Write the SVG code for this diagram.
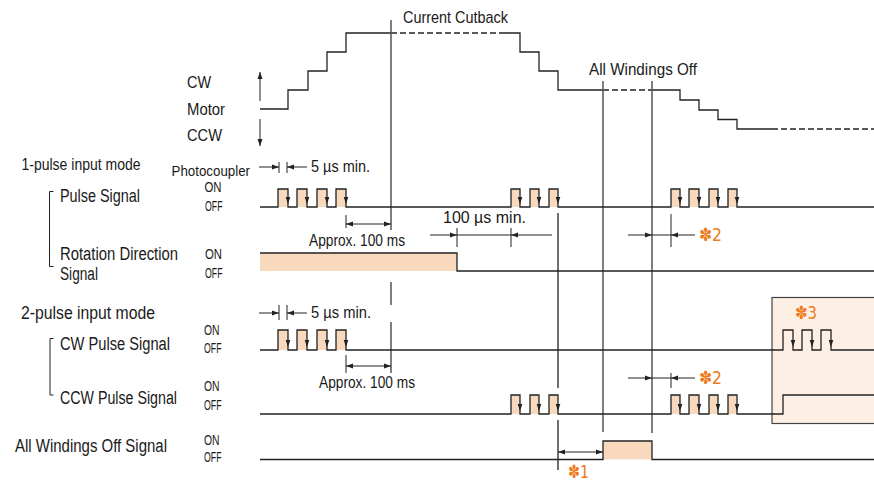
<svg xmlns="http://www.w3.org/2000/svg" width="874" height="483" viewBox="0 0 874 483">
<style>
text{font-family:"Liberation Sans",Arial,sans-serif;fill:#1a1a1a;}
.t15{font-size:17px;}
.t14{font-size:16px;}
.t16{font-size:18px;}
.t13{font-size:14.5px;}
.oo{font-size:14.5px;}
.star{font-family:"DejaVu Sans","Liberation Sans",sans-serif;font-size:18px;fill:#EE7B22;}
.sig{fill:none;stroke:#222;stroke-width:1.3;}
.dash{fill:none;stroke:#222;stroke-width:1.3;stroke-dasharray:6 3;}
.vl{fill:none;stroke:#555;stroke-width:1.5;}
.vk{fill:none;stroke:#111;stroke-width:1.2;}
.dim{fill:none;stroke:#222;stroke-width:1;}
.arr{fill:none;stroke:#222;stroke-width:1;marker-end:url(#ah);}
.pf{fill:#F9D9BD;stroke:none;}
</style>
<defs>
<marker id="ah" markerUnits="userSpaceOnUse" markerWidth="8" markerHeight="6" refX="7" refY="3" orient="auto">
<path d="M0,0.5 L7,3 L0,5.5 Z" fill="#222"/>
</marker>
<path id="dn" d="M-2.3,-7 L2.3,-7 L0,0 Z" fill="#222"/>
</defs>

<rect id="box3" x="772" y="297.5" width="110" height="126" fill="#FDEFE3" stroke="#444" stroke-width="1.2"/>

<g id="motor">
<text class="t15" x="187" y="88" textLength="24" lengthAdjust="spacingAndGlyphs">CW</text>
<text class="t15" x="187" y="115" textLength="38" lengthAdjust="spacingAndGlyphs">Motor</text>
<text class="t15" x="187" y="141" textLength="35" lengthAdjust="spacingAndGlyphs">CCW</text>
<path class="sig" d="M260,109 H288 V90 H308 V71 H327 V52 H346 V33 H391"/>
<path class="dash" d="M391,33 H501"/>
<path class="sig" d="M501,33 H520 V52 H539 V71 H558 V90 H603"/>
<path class="dash" d="M603,90 H652"/>
<path class="sig" d="M652,90 H680 V100 H699 V110 H718 V119.5 H737 V129 H772"/>
<path class="dash" d="M772,129 H874"/>
<text class="t15" x="403" y="23" textLength="105" lengthAdjust="spacingAndGlyphs">Current Cutback</text>
<text class="t15" x="589" y="75" textLength="108" lengthAdjust="spacingAndGlyphs">All Windings Off</text>
</g>

<g id="timelines">
<path class="vl" d="M391,20 V230 M391,282 V305 M391,322 V373"/>
<path class="vk" d="M558,213 V388 M558,420 V470"/>
<path class="vl" d="M603,81 V432 M652,81 V433"/>
</g>

<g id="one-pulse">
<text class="t14" x="21.5" y="169.5" textLength="119" lengthAdjust="spacingAndGlyphs">1-pulse input mode</text>
<path class="dim" d="M49.5,191.5 V266.5 M49.5,191.5 H53.5 M49.5,266.5 H53.5"/>
</g>

<g id="pulse-signal">
<text class="t13" x="171.5" y="176" textLength="78.5" lengthAdjust="spacingAndGlyphs">Photocoupler</text>
<text class="oo" x="204.5" y="191.5" textLength="17" lengthAdjust="spacingAndGlyphs">ON</text>
<text class="oo" x="205" y="211" textLength="17.5" lengthAdjust="spacingAndGlyphs">OFF</text>
<text class="t16" x="60" y="201.5" textLength="80" lengthAdjust="spacingAndGlyphs">Pulse Signal</text>
<rect class="pf" x="278" y="189" width="10" height="18"/>
<rect class="pf" x="297" y="189" width="10" height="18"/>
<rect class="pf" x="317" y="189" width="10" height="18"/>
<rect class="pf" x="336" y="189" width="10" height="18"/>
<rect class="pf" x="511" y="189" width="9" height="18"/>
<rect class="pf" x="530" y="189" width="9" height="18"/>
<rect class="pf" x="549" y="189" width="9" height="18"/>
<rect class="pf" x="671" y="189" width="9" height="18"/>
<rect class="pf" x="689" y="189" width="10" height="18"/>
<rect class="pf" x="709" y="189" width="9" height="18"/>
<rect class="pf" x="728" y="189" width="9" height="18"/>
<path class="sig" d="M260,207 H278 V189 H288 V207 H297 V189 H307 V207 H317 V189 H327 V207 H336 V189 H346 V207 H511 V189 H520 V207 H530 V189 H539 V207 H549 V189 H558 V207 H671 V189 H680 V207 H689 V189 H699 V207 H709 V189 H718 V207 H728 V189 H737 V207 H874"/>
<use href="#dn" x="288" y="204"/><use href="#dn" x="307" y="204"/><use href="#dn" x="327" y="204"/><use href="#dn" x="346" y="204"/>
<use href="#dn" x="520" y="204"/><use href="#dn" x="539" y="204"/><use href="#dn" x="558" y="204"/>
<use href="#dn" x="680" y="204"/><use href="#dn" x="699" y="204"/><use href="#dn" x="718" y="204"/><use href="#dn" x="737" y="204"/>
</g>

<g id="rotation-signal">
<text class="t16" x="60" y="260" textLength="118" lengthAdjust="spacingAndGlyphs">Rotation Direction</text>
<text class="t16" x="60" y="280" textLength="38" lengthAdjust="spacingAndGlyphs">Signal</text>
<text class="oo" x="205" y="258.5" textLength="17" lengthAdjust="spacingAndGlyphs">ON</text>
<text class="oo" x="205" y="278" textLength="17.5" lengthAdjust="spacingAndGlyphs">OFF</text>
<rect class="pf" x="260" y="253" width="197" height="18"/>
<path class="sig" d="M260,253 H457 V271 H874"/>
</g>

<g id="two-pulse">
<text class="t16" x="21" y="319" textLength="134" lengthAdjust="spacingAndGlyphs">2-pulse input mode</text>
<path class="dim" d="M50,338.5 V395 M50,338.5 H53.5 M50,395 H53.5"/>
</g>

<g id="cw-pulse">
<text class="t16" x="60" y="349.5" textLength="110" lengthAdjust="spacingAndGlyphs">CW Pulse Signal</text>
<text class="oo" x="204" y="335" textLength="15.5" lengthAdjust="spacingAndGlyphs">ON</text>
<text class="oo" x="204" y="352.5" textLength="17.5" lengthAdjust="spacingAndGlyphs">OFF</text>
<rect class="pf" x="278" y="330" width="10" height="20"/>
<rect class="pf" x="297" y="330" width="10" height="20"/>
<rect class="pf" x="317" y="330" width="10" height="20"/>
<rect class="pf" x="336" y="330" width="10" height="20"/>
<path class="sig" d="M260,350 H278 V330 H288 V350 H297 V330 H307 V350 H317 V330 H327 V350 H336 V330 H346 V350 H783 V330 H793 V350 H802 V330 H812 V350 H821 V330 H831 V350 H874"/>
<use href="#dn" x="288" y="347"/><use href="#dn" x="307" y="347"/><use href="#dn" x="327" y="347"/><use href="#dn" x="346" y="347"/>
<use href="#dn" x="793" y="347"/><use href="#dn" x="812" y="347"/><use href="#dn" x="831" y="347"/>
<text class="star" x="795" y="319" textLength="22" lengthAdjust="spacingAndGlyphs">✽3</text>
</g>

<g id="ccw-pulse">
<text class="t16" x="60" y="403.5" textLength="117" lengthAdjust="spacingAndGlyphs">CCW Pulse Signal</text>
<text class="oo" x="204" y="390.5" textLength="15.5" lengthAdjust="spacingAndGlyphs">ON</text>
<text class="oo" x="204" y="409.5" textLength="17.5" lengthAdjust="spacingAndGlyphs">OFF</text>
<rect class="pf" x="511" y="395" width="9" height="19"/>
<rect class="pf" x="530" y="395" width="9" height="19"/>
<rect class="pf" x="549" y="395" width="9" height="19"/>
<rect class="pf" x="671" y="395" width="9" height="19"/>
<rect class="pf" x="689" y="395" width="10" height="19"/>
<rect class="pf" x="709" y="395" width="9" height="19"/>
<rect class="pf" x="728" y="395" width="9" height="19"/>
<path class="sig" d="M260,414 H511 V395 H520 V414 H530 V395 H539 V414 H549 V395 H558 V414 H671 V395 H680 V414 H689 V395 H699 V414 H709 V395 H718 V414 H728 V395 H737 V414 H783 V395 H874"/>
<use href="#dn" x="520" y="411"/><use href="#dn" x="539" y="411"/><use href="#dn" x="558" y="411"/>
<use href="#dn" x="680" y="411"/><use href="#dn" x="699" y="411"/><use href="#dn" x="718" y="411"/><use href="#dn" x="737" y="411"/>
</g>

<g id="awo-signal">
<text class="t16" x="15" y="451.5" textLength="152" lengthAdjust="spacingAndGlyphs">All Windings Off Signal</text>
<text class="oo" x="204" y="445" textLength="15.5" lengthAdjust="spacingAndGlyphs">ON</text>
<text class="oo" x="204" y="461.5" textLength="17.5" lengthAdjust="spacingAndGlyphs">OFF</text>
<rect class="pf" x="603" y="441" width="49" height="18.5"/>
<path class="sig" d="M260,459.5 H603 V441 H652 V459.5 H874"/>
</g>

<g id="connectors">
<path class="arr" d="M260,101 V72"/>
<path class="arr" d="M260,119 V146"/>
<path class="dim" d="M279,162 V173 M287,162 V173"/>
<path class="arr" d="M259,167 H279"/>
<path class="arr" d="M307,167 H287"/>
<text class="t14" x="311" y="172" textLength="59" lengthAdjust="spacingAndGlyphs">5 µs min.</text>
<path class="dim" d="M346,215 V228"/>
<path class="arr" d="M368,224 H346"/>
<path class="arr" d="M368,224 H391"/>
<text class="t15" x="309" y="245.5" textLength="96" lengthAdjust="spacingAndGlyphs">Approx. 100 ms</text>
<path class="dim" d="M457,228 V247 M511,228 V247 M457,235 H511"/>
<path class="arr" d="M430,235 H457"/>
<path class="arr" d="M552,235 H511"/>
<text class="t15" x="443" y="223" textLength="83" lengthAdjust="spacingAndGlyphs">100 µs min.</text>
<path class="dim" d="M671,214 V247 M652,235 H671"/>
<path class="arr" d="M628,235 H652"/>
<path class="arr" d="M695,235 H671"/>
<text class="star" x="699" y="241" textLength="23" lengthAdjust="spacingAndGlyphs">✽2</text>
<path class="dim" d="M279,305 V320 M287,305 V320"/>
<path class="arr" d="M259,313 H279"/>
<path class="arr" d="M307,313 H287"/>
<text class="t14" x="311" y="317.5" textLength="60" lengthAdjust="spacingAndGlyphs">5 µs min.</text>
<path class="dim" d="M346,355 V373"/>
<path class="arr" d="M368,366 H346"/>
<path class="arr" d="M368,366 H391"/>
<text class="t15" x="319" y="388" textLength="96" lengthAdjust="spacingAndGlyphs">Approx. 100 ms</text>
<path class="dim" d="M671,373 V388 M652,378 H671"/>
<path class="arr" d="M628,378 H652"/>
<path class="arr" d="M695,378 H671"/>
<text class="star" x="699" y="384" textLength="23" lengthAdjust="spacingAndGlyphs">✽2</text>
<path class="arr" d="M580,452 H558"/>
<path class="arr" d="M580,452 H603"/>
<text class="star" x="568" y="478" textLength="21" lengthAdjust="spacingAndGlyphs">✽1</text>
</g>
</svg>
